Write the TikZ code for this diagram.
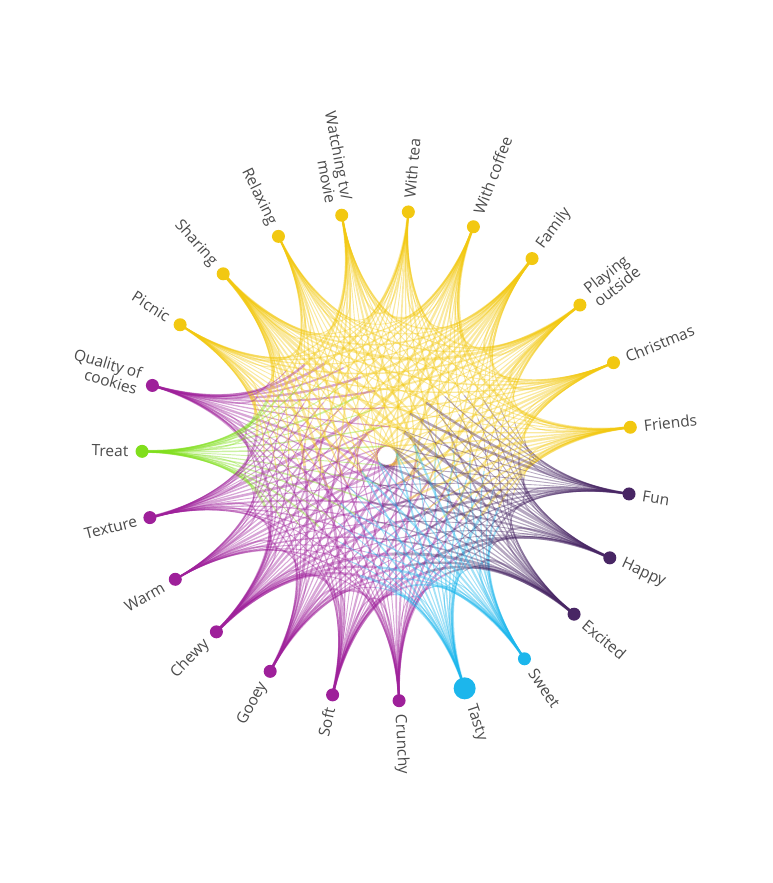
\documentclass[tikz,border=0pt]{standalone}
\usepackage{fontspec}
\setmainfont{Open Sans}
\usetikzlibrary{calc}
\definecolor{Y}{RGB}{242,200,17}
\definecolor{D}{RGB}{72,38,100}
\definecolor{C}{RGB}{28,182,236}
\definecolor{M}{RGB}{158,32,154}
\definecolor{G}{RGB}{128,222,28}
\definecolor{labelgray}{RGB}{75,75,75}
\tikzset{
  eY/.style={draw=Y, draw opacity=0.4},
  eD/.style={draw=D, draw opacity=0.4},
  eC/.style={draw=C, draw opacity=0.4},
  eM/.style={draw=M, draw opacity=0.4},
  eG/.style={draw=G, draw opacity=0.4},
  dot/.style={circle, inner sep=0pt, minimum size=#1},
  lab/.style={text=labelgray, font=\fontsize{15.5}{16.5}\selectfont, inner sep=0pt}
}
\def\nodelist{0/Y,1/Y,2/Y,3/Y,4/Y,5/Y,6/D,7/D,8/D,9/C,10/C,11/M,12/M,13/M,14/M,15/M,16/M,17/G,18/M,19/Y,20/Y,21/Y,22/Y}
\begin{document}
\begin{tikzpicture}[x=1pt,y=1pt]
\useasboundingbox (-387,-427) rectangle (385,456);
\pgfmathsetseed{4242}
% positions
\foreach \i in {0,...,22}{
  \coordinate (p\i) at ({85-\i*360/23}:245);
}
% connectors
\foreach \i/\ci in \nodelist{
  \foreach \j/\cj in \nodelist{
    \ifnum\j>\i
      \pgfmathsetmacro{\w}{0.8+2.6*rnd*rnd}
      \draw[e\ci, line width=\w pt] (p\i) .. controls ($0.725*(p\i)$) and ($0.475*(p\i)+0.1125*(p\j)$) .. ($0.29375*(p\i)+0.29375*(p\j)$);
      \draw[e\cj, line width=\w pt] ($0.29375*(p\i)+0.29375*(p\j)$) .. controls ($0.1125*(p\i)+0.475*(p\j)$) and ($0.725*(p\j)$) .. (p\j);
    \fi
  }
}
% dots and labels
\foreach \i/\c/\s/\t in {
  0/Y/13/{With tea},
  1/Y/13/{With coffee},
  2/Y/13/{Family},
  3/Y/13/{Playing\\outside},
  4/Y/13/{Christmas},
  5/Y/13/{Friends},
  6/D/13/{Fun},
  7/D/13/{Happy},
  8/D/13/{Excited},
  9/C/13/{Sweet},
  10/C/22/{Tasty},
  11/M/13/{Crunchy},
  12/M/13/{Soft},
  13/M/13/{Gooey},
  14/M/13/{Chewy},
  15/M/13/{Warm},
  16/M/13/{Texture},
  17/G/13/{Treat},
  18/M/13/{Quality of\\cookies},
  19/Y/13/{Picnic},
  20/Y/13/{Sharing},
  21/Y/13/{Relaxing},
  22/Y/13/{Watching tv/\\movie}}{
  \node[dot=\s pt, fill=\c] (n\i) at (p\i) {};
  \pgfmathsetmacro{\a}{mod(85-\i*360/23+720,360)}
  \pgfmathsetmacro{\off}{\s/2+7}
  \ifdim\a pt>90pt
    \ifdim\a pt<270pt
      \pgfmathsetmacro{\r}{\a-180}
      \node[lab, rotate=\r, anchor=east, align=right] (l\i) at ($(p\i)+(\a:\off)$) {\t};
    \else
      \node[lab, rotate=\a, anchor=west, align=left] (l\i) at ($(p\i)+(\a:\off)$) {\t};
    \fi
  \else
    \node[lab, rotate=\a, anchor=west, align=left] (l\i) at ($(p\i)+(\a:\off)$) {\t};
  \fi
}
\end{tikzpicture}
\end{document}
